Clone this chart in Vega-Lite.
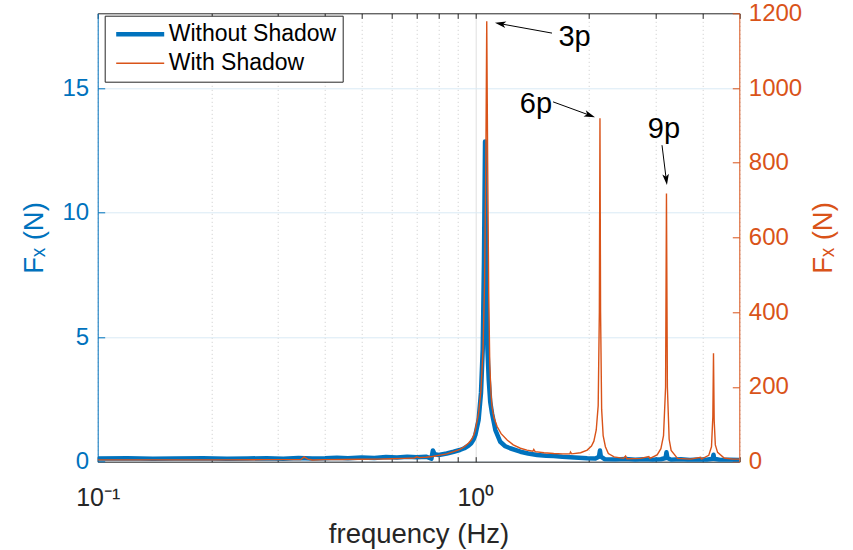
{
  "$schema": "https://vega.github.io/schema/vega-lite/v6.json",
  "autosize": {"type": "none"},
  "width": 641.6,
  "height": 448.4,
  "padding": {"left": 97.7, "top": 13.3, "right": 113.7, "bottom": 88.3},
  "background": "white",
  "config": {
    "font": "Liberation Sans",
    "view": {"stroke": null},
    "axis": {"labelFont": "Liberation Sans", "titleFont": "Liberation Sans", "titleFontWeight": "normal", "labelFontSize": 24, "titleFontSize": 27.5, "domainWidth": 1, "tickWidth": 1},
    "legend": {
      "orient": "none", "legendX": 7, "legendY": 2.4, "fillColor": "white", "strokeColor": "#262626",
      "padding": 6, "rowPadding": 5, "symbolType": "M-0.7,0H4.1", "symbolSize": 400, "labelOffset": 33, "labelLimit": 0,
      "labelFontSize": 23, "labelFont": "Liberation Sans", "labelColor": "#000000", "title": null, "cornerRadius": 0
    }
  },
  "datasets": {
    "series": [
      {"s": "Without Shadow", "f": 0.1, "v": 0.13}, {"s": "Without Shadow", "f": 0.12, "v": 0.14}, {"s": "Without Shadow", "f": 0.14, "v": 0.12}, {"s": "Without Shadow", "f": 0.16, "v": 0.13},
      {"s": "Without Shadow", "f": 0.19, "v": 0.14}, {"s": "Without Shadow", "f": 0.22, "v": 0.12}, {"s": "Without Shadow", "f": 0.25, "v": 0.13}, {"s": "Without Shadow", "f": 0.28, "v": 0.14},
      {"s": "Without Shadow", "f": 0.31, "v": 0.12}, {"s": "Without Shadow", "f": 0.34, "v": 0.15}, {"s": "Without Shadow", "f": 0.37, "v": 0.13}, {"s": "Without Shadow", "f": 0.4, "v": 0.14},
      {"s": "Without Shadow", "f": 0.43, "v": 0.16}, {"s": "Without Shadow", "f": 0.46, "v": 0.14}, {"s": "Without Shadow", "f": 0.5, "v": 0.17}, {"s": "Without Shadow", "f": 0.54, "v": 0.15},
      {"s": "Without Shadow", "f": 0.58, "v": 0.19}, {"s": "Without Shadow", "f": 0.62, "v": 0.17}, {"s": "Without Shadow", "f": 0.66, "v": 0.2}, {"s": "Without Shadow", "f": 0.7, "v": 0.18},
      {"s": "Without Shadow", "f": 0.74, "v": 0.2}, {"s": "Without Shadow", "f": 0.765, "v": 0.12}, {"s": "Without Shadow", "f": 0.772, "v": 0.45}, {"s": "Without Shadow", "f": 0.78, "v": 0.3},
      {"s": "Without Shadow", "f": 0.8, "v": 0.27}, {"s": "Without Shadow", "f": 0.84, "v": 0.33}, {"s": "Without Shadow", "f": 0.876, "v": 0.4}, {"s": "Without Shadow", "f": 0.91, "v": 0.47},
      {"s": "Without Shadow", "f": 0.935, "v": 0.54}, {"s": "Without Shadow", "f": 0.96, "v": 0.65}, {"s": "Without Shadow", "f": 0.975, "v": 0.74}, {"s": "Without Shadow", "f": 0.99, "v": 0.9},
      {"s": "Without Shadow", "f": 1.0, "v": 1.07}, {"s": "Without Shadow", "f": 1.02, "v": 1.67}, {"s": "Without Shadow", "f": 1.035, "v": 2.76}, {"s": "Without Shadow", "f": 1.046, "v": 4.5},
      {"s": "Without Shadow", "f": 1.054, "v": 8.0}, {"s": "Without Shadow", "f": 1.061, "v": 12.85}, {"s": "Without Shadow", "f": 1.068, "v": 8.0}, {"s": "Without Shadow", "f": 1.076, "v": 4.6},
      {"s": "Without Shadow", "f": 1.085, "v": 3.3}, {"s": "Without Shadow", "f": 1.095, "v": 2.4}, {"s": "Without Shadow", "f": 1.107, "v": 1.94}, {"s": "Without Shadow", "f": 1.13, "v": 1.27},
      {"s": "Without Shadow", "f": 1.164, "v": 0.8}, {"s": "Without Shadow", "f": 1.2, "v": 0.62}, {"s": "Without Shadow", "f": 1.236, "v": 0.54}, {"s": "Without Shadow", "f": 1.316, "v": 0.4},
      {"s": "Without Shadow", "f": 1.38, "v": 0.33}, {"s": "Without Shadow", "f": 1.458, "v": 0.27}, {"s": "Without Shadow", "f": 1.54, "v": 0.24}, {"s": "Without Shadow", "f": 1.613, "v": 0.23},
      {"s": "Without Shadow", "f": 1.7, "v": 0.2}, {"s": "Without Shadow", "f": 1.786, "v": 0.18}, {"s": "Without Shadow", "f": 1.88, "v": 0.16}, {"s": "Without Shadow", "f": 1.978, "v": 0.14},
      {"s": "Without Shadow", "f": 2.08, "v": 0.13}, {"s": "Without Shadow", "f": 2.125, "v": 0.2}, {"s": "Without Shadow", "f": 2.138, "v": 0.45}, {"s": "Without Shadow", "f": 2.15, "v": 0.2},
      {"s": "Without Shadow", "f": 2.2, "v": 0.1}, {"s": "Without Shadow", "f": 2.35, "v": 0.09}, {"s": "Without Shadow", "f": 2.5, "v": 0.11}, {"s": "Without Shadow", "f": 2.65, "v": 0.08},
      {"s": "Without Shadow", "f": 2.8, "v": 0.1}, {"s": "Without Shadow", "f": 2.95, "v": 0.08}, {"s": "Without Shadow", "f": 3.1, "v": 0.1}, {"s": "Without Shadow", "f": 3.19, "v": 0.15},
      {"s": "Without Shadow", "f": 3.207, "v": 0.38}, {"s": "Without Shadow", "f": 3.225, "v": 0.15}, {"s": "Without Shadow", "f": 3.3, "v": 0.08}, {"s": "Without Shadow", "f": 3.5, "v": 0.1},
      {"s": "Without Shadow", "f": 3.7, "v": 0.07}, {"s": "Without Shadow", "f": 3.9, "v": 0.09}, {"s": "Without Shadow", "f": 4.1, "v": 0.08}, {"s": "Without Shadow", "f": 4.25, "v": 0.12},
      {"s": "Without Shadow", "f": 4.272, "v": 0.28}, {"s": "Without Shadow", "f": 4.29, "v": 0.12}, {"s": "Without Shadow", "f": 4.45, "v": 0.07}, {"s": "Without Shadow", "f": 4.7, "v": 0.08},
      {"s": "Without Shadow", "f": 5.0, "v": 0.07},
      {"s": "With Shadow", "f": 0.1, "v": 5}, {"s": "With Shadow", "f": 0.13, "v": 5}, {"s": "With Shadow", "f": 0.17, "v": 5}, {"s": "With Shadow", "f": 0.22, "v": 5},
      {"s": "With Shadow", "f": 0.28, "v": 5.5}, {"s": "With Shadow", "f": 0.33, "v": 5.5}, {"s": "With Shadow", "f": 0.345, "v": 6}, {"s": "With Shadow", "f": 0.352, "v": 13},
      {"s": "With Shadow", "f": 0.36, "v": 7}, {"s": "With Shadow", "f": 0.37, "v": 4.5}, {"s": "With Shadow", "f": 0.4, "v": 5.5}, {"s": "With Shadow", "f": 0.45, "v": 6},
      {"s": "With Shadow", "f": 0.5, "v": 6.5}, {"s": "With Shadow", "f": 0.55, "v": 7}, {"s": "With Shadow", "f": 0.6, "v": 8}, {"s": "With Shadow", "f": 0.65, "v": 9},
      {"s": "With Shadow", "f": 0.69, "v": 10}, {"s": "With Shadow", "f": 0.7, "v": 13}, {"s": "With Shadow", "f": 0.71, "v": 11}, {"s": "With Shadow", "f": 0.74, "v": 12},
      {"s": "With Shadow", "f": 0.77, "v": 14}, {"s": "With Shadow", "f": 0.8, "v": 17}, {"s": "With Shadow", "f": 0.84, "v": 21}, {"s": "With Shadow", "f": 0.876, "v": 27},
      {"s": "With Shadow", "f": 0.91, "v": 33}, {"s": "With Shadow", "f": 0.935, "v": 40}, {"s": "With Shadow", "f": 0.96, "v": 50}, {"s": "With Shadow", "f": 0.975, "v": 58},
      {"s": "With Shadow", "f": 0.99, "v": 70}, {"s": "With Shadow", "f": 1.0, "v": 85}, {"s": "With Shadow", "f": 1.02, "v": 130}, {"s": "With Shadow", "f": 1.035, "v": 192},
      {"s": "With Shadow", "f": 1.048, "v": 300}, {"s": "With Shadow", "f": 1.058, "v": 480}, {"s": "With Shadow", "f": 1.066, "v": 800}, {"s": "With Shadow", "f": 1.072, "v": 1179},
      {"s": "With Shadow", "f": 1.078, "v": 800}, {"s": "With Shadow", "f": 1.085, "v": 450}, {"s": "With Shadow", "f": 1.092, "v": 260}, {"s": "With Shadow", "f": 1.1, "v": 185},
      {"s": "With Shadow", "f": 1.107, "v": 147}, {"s": "With Shadow", "f": 1.12, "v": 118}, {"s": "With Shadow", "f": 1.142, "v": 94}, {"s": "With Shadow", "f": 1.17, "v": 75},
      {"s": "With Shadow", "f": 1.214, "v": 58}, {"s": "With Shadow", "f": 1.26, "v": 45}, {"s": "With Shadow", "f": 1.316, "v": 36}, {"s": "With Shadow", "f": 1.37, "v": 31},
      {"s": "With Shadow", "f": 1.42, "v": 28}, {"s": "With Shadow", "f": 1.428, "v": 33}, {"s": "With Shadow", "f": 1.44, "v": 27}, {"s": "With Shadow", "f": 1.52, "v": 24},
      {"s": "With Shadow", "f": 1.613, "v": 22}, {"s": "With Shadow", "f": 1.7, "v": 21}, {"s": "With Shadow", "f": 1.78, "v": 21}, {"s": "With Shadow", "f": 1.786, "v": 26},
      {"s": "With Shadow", "f": 1.8, "v": 21}, {"s": "With Shadow", "f": 1.9, "v": 24}, {"s": "With Shadow", "f": 1.978, "v": 31}, {"s": "With Shadow", "f": 2.03, "v": 42},
      {"s": "With Shadow", "f": 2.06, "v": 55}, {"s": "With Shadow", "f": 2.09, "v": 85}, {"s": "With Shadow", "f": 2.115, "v": 150}, {"s": "With Shadow", "f": 2.13, "v": 400},
      {"s": "With Shadow", "f": 2.138, "v": 919}, {"s": "With Shadow", "f": 2.146, "v": 400}, {"s": "With Shadow", "f": 2.16, "v": 140}, {"s": "With Shadow", "f": 2.18, "v": 70},
      {"s": "With Shadow", "f": 2.21, "v": 40}, {"s": "With Shadow", "f": 2.25, "v": 22}, {"s": "With Shadow", "f": 2.33, "v": 13}, {"s": "With Shadow", "f": 2.47, "v": 9},
      {"s": "With Shadow", "f": 2.5, "v": 15}, {"s": "With Shadow", "f": 2.52, "v": 8}, {"s": "With Shadow", "f": 2.74, "v": 9}, {"s": "With Shadow", "f": 2.88, "v": 14},
      {"s": "With Shadow", "f": 2.9, "v": 9}, {"s": "With Shadow", "f": 3.03, "v": 18}, {"s": "With Shadow", "f": 3.1, "v": 35}, {"s": "With Shadow", "f": 3.15, "v": 70},
      {"s": "With Shadow", "f": 3.19, "v": 200}, {"s": "With Shadow", "f": 3.207, "v": 718}, {"s": "With Shadow", "f": 3.225, "v": 200}, {"s": "With Shadow", "f": 3.26, "v": 60},
      {"s": "With Shadow", "f": 3.3, "v": 30}, {"s": "With Shadow", "f": 3.43, "v": 9}, {"s": "With Shadow", "f": 3.72, "v": 7}, {"s": "With Shadow", "f": 3.95, "v": 12},
      {"s": "With Shadow", "f": 3.97, "v": 7}, {"s": "With Shadow", "f": 4.15, "v": 17}, {"s": "With Shadow", "f": 4.22, "v": 40}, {"s": "With Shadow", "f": 4.255, "v": 120},
      {"s": "With Shadow", "f": 4.272, "v": 290}, {"s": "With Shadow", "f": 4.29, "v": 110}, {"s": "With Shadow", "f": 4.32, "v": 45}, {"s": "With Shadow", "f": 4.38, "v": 25},
      {"s": "With Shadow", "f": 4.56, "v": 10}, {"s": "With Shadow", "f": 4.8, "v": 7}, {"s": "With Shadow", "f": 5.0, "v": 7}
    ],
    "notes": [
      {"label": "3p", "tf": 1.831, "tv": 1112, "f": 1.596, "v": 1147, "f2": 1.165, "v2": 1172},
      {"label": "6p", "tf": 1.447, "tv": 932, "f": 1.606, "v": 963, "f2": 2.010, "v2": 927},
      {"label": "9p", "tf": 3.159, "tv": 867, "f": 3.121, "v": 847, "f2": 3.203, "v2": 755}
    ]
  },
  "resolve": {"scale": {"y": "independent"}, "axis": {"x": "independent", "y": "independent"}},
  "layer": [
    {
      "data": {"name": "series"},
      "transform": [{"filter": "datum.s == 'Without Shadow'"}],
      "mark": {"type": "line", "strokeJoin": "round", "clip": true},
      "encoding": {
        "x": {
          "field": "f", "type": "quantitative",
          "scale": {"type": "log", "domain": [0.1, 5], "nice": false},
          "axis": {
            "orient": "bottom", "title": "frequency (Hz)",
            "values": [0.1, 0.2, 0.3, 0.4, 0.5, 0.6, 0.7, 0.8, 0.9, 1, 2, 3, 4, 5],
            "labelExpr": "datum.value == 0.1 ? '10⁻¹' : (datum.value == 1 ? '10⁰' : '')",
            "labelFlush": false, "labelOverlap": false, "labelBound": false,
            "labelColor": "#262626", "labelPadding": 29, "labelFontSize": 25,
            "tickSize": -5, "tickColor": "#262626", "domainColor": "#262626",
            "grid": true,
            "gridColor": {"condition": {"test": "datum.value == 1", "value": "#dfdfdf"}, "value": "#c8c8c8"},
            "gridDash": {"condition": {"test": "datum.value == 1", "value": []}, "value": [1, 3]},
            "titleColor": "#262626", "titlePadding": 10
          }
        },
        "y": {
          "field": "v", "type": "quantitative",
          "scale": {"domain": [0, 18], "nice": false},
          "axis": {
            "orient": "left", "title": "Fₓ (N)", "values": [0, 5, 10, 15],
            "grid": true, "gridColor": "#d9eaf5",
            "domainColor": "#0072BD", "tickColor": "#0072BD", "tickSize": -7,
            "labelColor": "#0072BD", "labelPadding": 16, "titleColor": "#0072BD", "titlePadding": 14
          }
        },
        "color": {"field": "s", "type": "nominal", "scale": {"domain": ["Without Shadow", "With Shadow"], "range": ["#0072BD", "#D95319"]}},
        "strokeWidth": {"field": "s", "type": "nominal", "scale": {"type": "ordinal", "domain": ["Without Shadow", "With Shadow"], "range": [4.5, 1.4]}}
      }
    },
    {
      "data": {"name": "series"},
      "transform": [{"filter": "datum.s == 'With Shadow'"}],
      "mark": {"type": "line", "clip": true},
      "encoding": {
        "x": {
          "field": "f", "type": "quantitative",
          "scale": {"type": "log", "domain": [0.1, 5], "nice": false},
          "axis": {
            "orient": "top", "title": null, "labels": false, "grid": false,
            "values": [0.1, 0.2, 0.3, 0.4, 0.5, 0.6, 0.7, 0.8, 0.9, 1, 2, 3, 4, 5],
            "tickSize": -5, "tickColor": "#262626", "domainColor": "#262626"
          }
        },
        "y": {
          "field": "v", "type": "quantitative",
          "scale": {"domain": [0, 1200], "nice": false},
          "axis": {
            "orient": "right", "title": "Fₓ (N)", "values": [0, 200, 400, 600, 800, 1000, 1200], "format": "d",
            "grid": false, "domainColor": "#D95319", "tickColor": "#D95319", "tickSize": -7,
            "labelColor": "#D95319", "labelPadding": 16, "titleColor": "#D95319",
            "titleAngle": 270, "titleBaseline": "top", "titlePadding": 8
          }
        },
        "color": {"field": "s", "type": "nominal", "scale": {"domain": ["Without Shadow", "With Shadow"], "range": ["#0072BD", "#D95319"]}},
        "strokeWidth": {"field": "s", "type": "nominal", "scale": {"type": "ordinal", "domain": ["Without Shadow", "With Shadow"], "range": [4.5, 1.4]}}
      }
    },
    {
      "data": {"name": "notes"},
      "mark": {"type": "rule", "color": "black", "strokeWidth": 1},
      "encoding": {
        "x": {"field": "f", "type": "quantitative", "scale": {"type": "log", "domain": [0.1, 5], "nice": false}, "axis": null},
        "y": {"field": "v", "type": "quantitative", "scale": {"domain": [0, 1200], "nice": false}, "axis": null},
        "x2": {"field": "f2"},
        "y2": {"field": "v2"}
      }
    },
    {
      "data": {"name": "notes"},
      "transform": [{"filter": "datum.label == '3p'"}],
      "mark": {"type": "point", "shape": "M0,-1L0.6,1L0,0.5L-0.6,1Z", "filled": true, "color": "black", "opacity": 1, "size": 121, "angle": 280},
      "encoding": {
        "x": {"field": "f2", "type": "quantitative", "scale": {"type": "log", "domain": [0.1, 5], "nice": false}, "axis": null},
        "y": {"field": "v2", "type": "quantitative", "scale": {"domain": [0, 1200], "nice": false}, "axis": null}
      }
    },
    {
      "data": {"name": "notes"},
      "transform": [{"filter": "datum.label == '6p'"}],
      "mark": {"type": "point", "shape": "M0,-1L0.6,1L0,0.5L-0.6,1Z", "filled": true, "color": "black", "opacity": 1, "size": 121, "angle": 110},
      "encoding": {
        "x": {"field": "f2", "type": "quantitative", "scale": {"type": "log", "domain": [0.1, 5], "nice": false}, "axis": null},
        "y": {"field": "v2", "type": "quantitative", "scale": {"domain": [0, 1200], "nice": false}, "axis": null}
      }
    },
    {
      "data": {"name": "notes"},
      "transform": [{"filter": "datum.label == '9p'"}],
      "mark": {"type": "point", "shape": "M0,-1L0.6,1L0,0.5L-0.6,1Z", "filled": true, "color": "black", "opacity": 1, "size": 121, "angle": 173},
      "encoding": {
        "x": {"field": "f2", "type": "quantitative", "scale": {"type": "log", "domain": [0.1, 5], "nice": false}, "axis": null},
        "y": {"field": "v2", "type": "quantitative", "scale": {"domain": [0, 1200], "nice": false}, "axis": null}
      }
    },
    {
      "data": {"name": "notes"},
      "mark": {"type": "text", "fontSize": 29, "align": "center", "baseline": "alphabetic", "color": "black", "font": "Liberation Sans"},
      "encoding": {
        "x": {"field": "tf", "type": "quantitative", "scale": {"type": "log", "domain": [0.1, 5], "nice": false}, "axis": null},
        "y": {"field": "tv", "type": "quantitative", "scale": {"domain": [0, 1200], "nice": false}, "axis": null},
        "text": {"field": "label"}
      }
    }
  ]
}
